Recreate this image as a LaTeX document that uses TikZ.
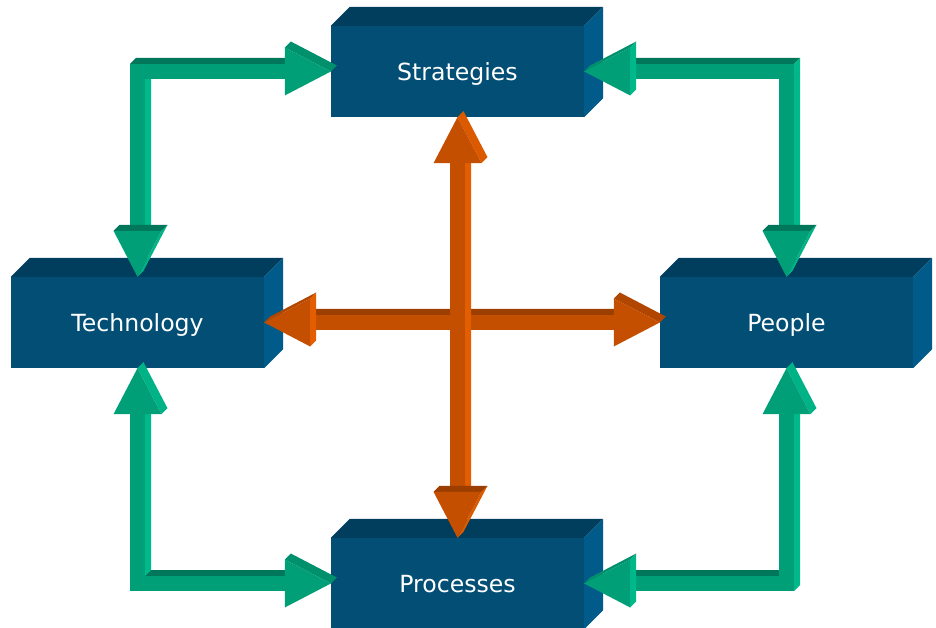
\documentclass[tikz,border=0pt]{standalone}
\usepackage{fontspec}
\setmainfont{DejaVu Sans}
\usetikzlibrary{calc}
\definecolor{blkF}{HTML}{024E75}
\definecolor{blkT}{HTML}{013D5D}
\definecolor{blkS}{HTML}{005B8A}
\definecolor{grnF}{HTML}{009F77}
\definecolor{grnT}{HTML}{00765A}
\definecolor{grnS}{HTML}{00B98A}
\definecolor{grnD}{HTML}{00906B}
\definecolor{grnL}{HTML}{00B386}
\definecolor{orgF}{HTML}{C44F00}
\definecolor{orgT}{HTML}{9C3E00}
\definecolor{orgS}{HTML}{E35E00}
\definecolor{orgD}{HTML}{B04600}
\definecolor{orgL}{HTML}{DB5A00}
\tikzset{
	block/.style={fill=blkF, text=white, inner sep=0pt,
		minimum width=253pt, minimum height=91pt,
		text height=17.2pt, text depth=0pt, font=\fontsize{23.6}{28}\selectfont},
	blocktop/.style={fill=blkT},
	blockside/.style={fill=blkS},
	grnfront/.style={fill=grnF},
	grntop/.style={fill=grnT},
	grnside/.style={fill=grnS},
	grnslant/.style={fill=grnD},
	grnlight/.style={fill=grnL},
	orgfront/.style={fill=orgF},
	orgtop/.style={fill=orgT},
	orgside/.style={fill=orgS},
	orgslant/.style={fill=orgD},
	orglight/.style={fill=orgL},
}
% arrow heads: #1 = tip, #2 = colour set
\newcommand{\headR}[2]{%
	\fill[#2slant] ([shift={(-46,24)}]#1) -- (#1) -- ([shift={(6,6)}]#1) -- ([shift={(-40,30)}]#1) -- cycle;
	\fill[#2front] (#1) -- ([shift={(-46,24)}]#1) -- ([shift={(-46,-24)}]#1) -- cycle;}
\newcommand{\headL}[2]{%
	\fill[#2side] ([shift={(46,-24)}]#1) -- ([shift={(46,24)}]#1) -- ([shift={(52,30)}]#1) -- ([shift={(52,-18)}]#1) -- cycle;
	\fill[#2slant] (#1) -- ([shift={(46,24)}]#1) -- ([shift={(52,30)}]#1) -- ([shift={(6,6)}]#1) -- cycle;
	\fill[#2front] (#1) -- ([shift={(46,24)}]#1) -- ([shift={(46,-24)}]#1) -- cycle;}
\newcommand{\headD}[2]{%
	\fill[#2top] ([shift={(-24,46)}]#1) -- ([shift={(24,46)}]#1) -- ([shift={(30,52)}]#1) -- ([shift={(-18,52)}]#1) -- cycle;
	\fill[#2light] (#1) -- ([shift={(24,46)}]#1) -- ([shift={(30,52)}]#1) -- ([shift={(6,6)}]#1) -- cycle;
	\fill[#2front] (#1) -- ([shift={(-24,46)}]#1) -- ([shift={(24,46)}]#1) -- cycle;}
\newcommand{\headU}[2]{%
	\fill[#2light] (#1) -- ([shift={(24,-46)}]#1) -- ([shift={(30,-40)}]#1) -- ([shift={(6,6)}]#1) -- cycle;
	\fill[#2front] (#1) -- ([shift={(-24,-46)}]#1) -- ([shift={(24,-46)}]#1) -- cycle;}
% shafts: #1 = left/bottom end, #2 = right/top end, #3 = colour set
\newcommand{\shaftH}[3]{%
	\fill[#3top] ([shift={(0,7.5)}]#1) -- ([shift={(0,7.5)}]#2) -- ([shift={(6,13.5)}]#2) -- ([shift={(6,13.5)}]#1) -- cycle;
	\fill[#3side] ([shift={(0,-7.5)}]#2) -- ([shift={(0,7.5)}]#2) -- ([shift={(6,13.5)}]#2) -- ([shift={(6,-1.5)}]#2) -- cycle;
	\fill[#3front] ([shift={(0,-7.5)}]#1) rectangle ([shift={(0,7.5)}]#2);}
\newcommand{\shaftV}[3]{%
	\fill[#3side] ([shift={(7.5,0)}]#1) -- ([shift={(7.5,0)}]#2) -- ([shift={(13.5,6)}]#2) -- ([shift={(13.5,6)}]#1) -- cycle;
	\fill[#3top] ([shift={(-7.5,0)}]#2) -- ([shift={(7.5,0)}]#2) -- ([shift={(13.5,6)}]#2) -- ([shift={(-1.5,6)}]#2) -- cycle;
	\fill[#3front] ([shift={(-7.5,0)}]#1) rectangle ([shift={(7.5,0)}]#2);}

\begin{document}
\begin{tikzpicture}[x=1pt, y=1pt]
	\useasboundingbox (0,0) rectangle (936,627);
	\node[block] (strat) at (457.5,555.5) {Strategies};
	\node[block] (tech) at (137.5,304.5) {Technology};
	\node[block] (people) at (786.5,304.5) {People};
	\node[block] (proc) at (457.5,43.5) {Processes};
	\foreach \bx in {strat,tech,people,proc}{
		\fill[blocktop] (\bx.north west) -- ++(19,19) -- ([shift={(19,19)}]\bx.north east) -- (\bx.north east) -- cycle;
		\fill[blockside] (\bx.south east) -- (\bx.north east) -- ++(19,19) -- ([shift={(19,19)}]\bx.south east) -- cycle;
	}

	% Technology -- Strategies
	\coordinate (tl) at (tech.north |- strat.west);
	\coordinate (tl-h) at ([xshift=-7.5]tl);
	\coordinate (tl-v) at ([yshift=-7.5]tl);
	\coordinate (tl-a) at ([xshift=-46]strat.west);
	\coordinate (tl-b) at ([yshift=46]tech.north);
	\shaftV{tl-b}{tl-v}{grn}
	\shaftH{tl-h}{tl-a}{grn}
	\headR{strat.west}{grn}
	\headD{tech.north}{grn}

	% Strategies -- People
	\coordinate (tr) at (people.north |- strat.east);
	\coordinate (tr-h) at ([xshift=7.5]tr);
	\coordinate (tr-v) at ([yshift=-7.5]tr);
	\coordinate (tr-a) at ([xshift=46]strat.east);
	\coordinate (tr-b) at ([yshift=46]people.north);
	\shaftV{tr-b}{tr-v}{grn}
	\shaftH{tr-a}{tr-h}{grn}
	\headL{strat.east}{grn}
	\headD{people.north}{grn}

	% Technology -- Processes
	\coordinate (bl) at (tech.south |- proc.west);
	\coordinate (bl-h) at ([xshift=-7.5]bl);
	\coordinate (bl-v) at ([yshift=7.5]bl);
	\coordinate (bl-a) at ([xshift=-46]proc.west);
	\coordinate (bl-b) at ([yshift=-46]tech.south);
	\shaftH{bl-h}{bl-a}{grn}
	\shaftV{bl-v}{bl-b}{grn}
	\headR{proc.west}{grn}
	\headU{tech.south}{grn}

	% Processes -- People
	\coordinate (br) at (people.south |- proc.east);
	\coordinate (br-h) at ([xshift=7.5]br);
	\coordinate (br-v) at ([yshift=7.5]br);
	\coordinate (br-a) at ([xshift=46]proc.east);
	\coordinate (br-b) at ([yshift=-46]people.south);
	\shaftH{br-a}{br-h}{grn}
	\shaftV{br-v}{br-b}{grn}
	\headL{proc.east}{grn}
	\headU{people.south}{grn}

	% cross in the middle
	\coordinate (oh-a) at ([xshift=46]tech.east);
	\coordinate (oh-b) at ([xshift=-46]people.west);
	\coordinate (ov-a) at ([yshift=46]proc.north);
	\coordinate (ov-b) at ([yshift=-46]strat.south);
	\shaftH{oh-a}{oh-b}{org}
	\headL{tech.east}{org}
	\headR{people.west}{org}
	\shaftV{ov-a}{ov-b}{org}
	\headU{strat.south}{org}
	\headD{proc.north}{org}
\end{tikzpicture}
\end{document}
